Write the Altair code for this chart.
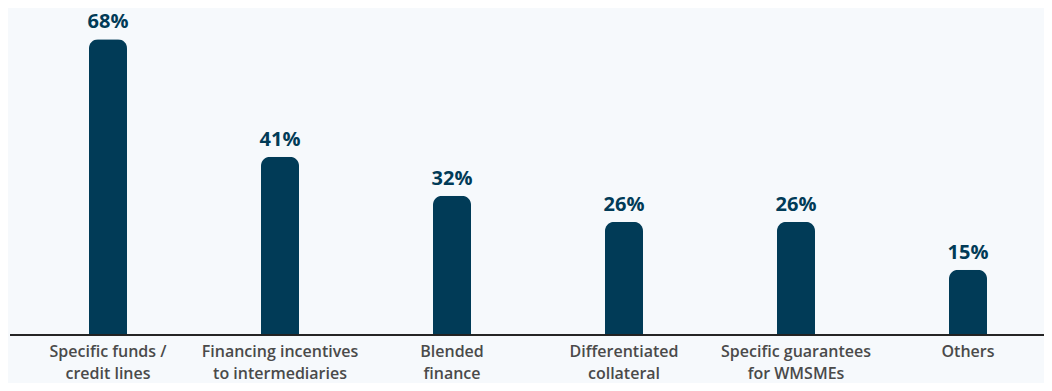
import altair as alt
import pandas as pd

categories = ["Specific funds /|credit lines", "Financing incentives|to intermediaries",
              "Blended|finance", "Differentiated|collateral",
              "Specific guarantees|for WMSMEs", "Others"]
values = [68, 41, 32, 26, 26, 15]
labels = ["68%", "41%", "32%", "26%", "26%", "15%"]

df = pd.DataFrame({"cat": categories, "val": values, "lab": labels})

NAVY = "#013b57"
W, H = 1036, 324

x = alt.X("cat:N", sort=None, title=None,
          scale=alt.Scale(range=[14, 1046], paddingInner=0, paddingOuter=0),
          axis=alt.Axis(labelExpr="split(datum.label, '|')", labelAngle=0,
                        labelFont="Open Sans", labelFontSize=16, labelColor="#4a4a4a",
                        labelFontWeight=600, labelLineHeight=22, labelPadding=8,
                        ticks=False, domain=False, labelBaseline="top"))
y = alt.Y("val:Q", scale=alt.Scale(domain=[0, 74.5]), axis=None)

bars = alt.Chart(df).mark_bar(size=38, color=NAVY, cornerRadiusTopLeft=9,
                              cornerRadiusTopRight=9).encode(x=x, y=y)
text = alt.Chart(df).mark_text(dy=-17, font="Open Sans", fontSize=20, fontWeight="bold",
                               color=NAVY).encode(x=x, y=y, text="lab:N")
base = alt.Chart(df).mark_rule(color="#222222", strokeWidth=1).encode(
    x=alt.value(2), x2=alt.value(W), y=alt.value(H))

chart = alt.layer(bars, text, base).properties(
    width=W, height=H, background="#f6f9fc",
    autosize=alt.AutoSizeParams(type="none"),
    padding={"left": 0, "top": 3, "right": 0, "bottom": 48}
).configure_view(stroke=None)

chart.save("out.html", embed_options={"renderer": "svg", "actions": False})
